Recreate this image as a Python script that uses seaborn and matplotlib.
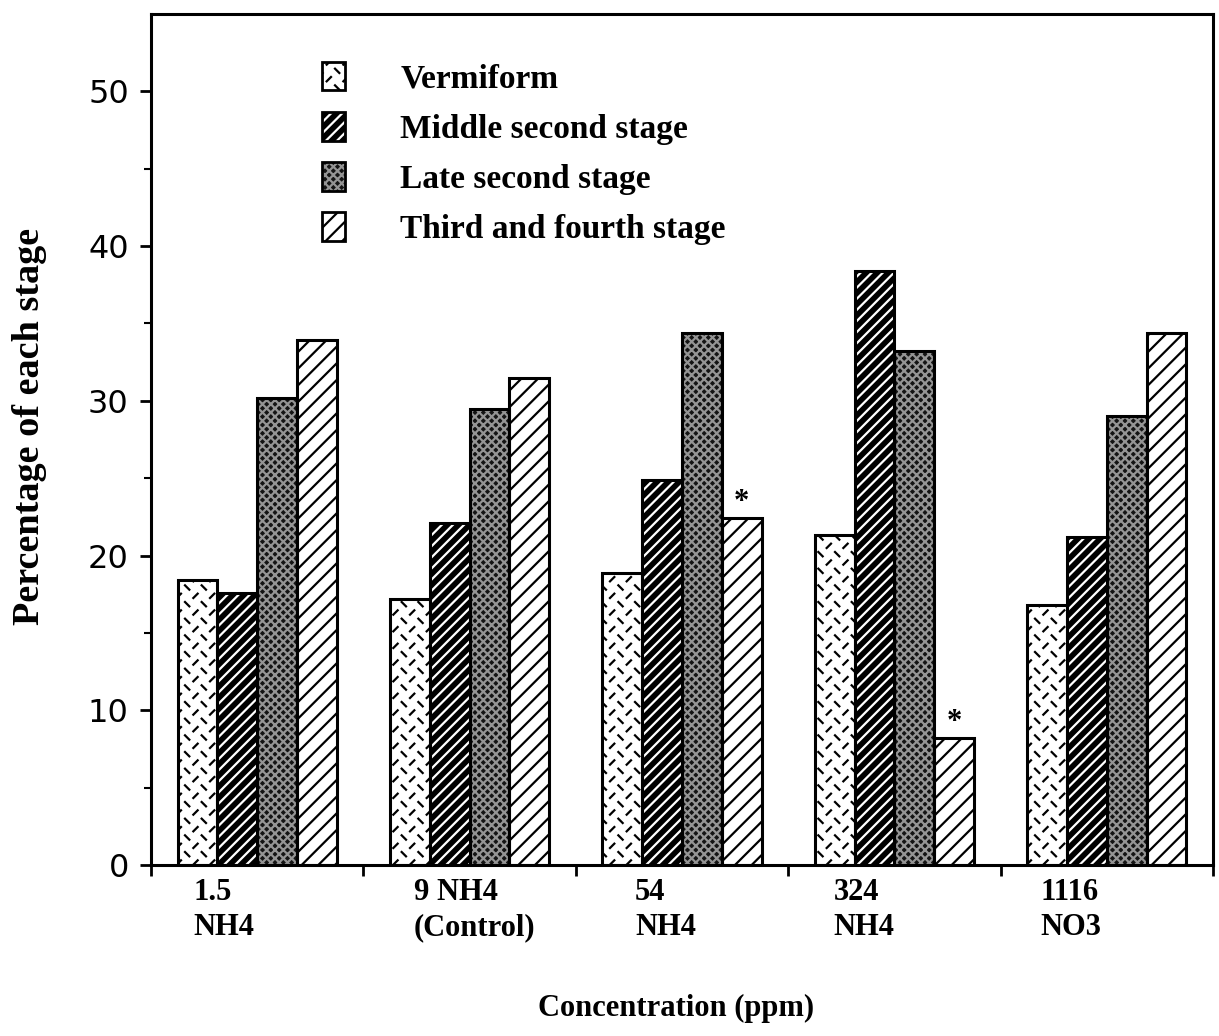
import numpy as np
import pandas as pd
import matplotlib
matplotlib.use("Agg")
import matplotlib.pyplot as plt
import matplotlib.transforms as mtrans
from matplotlib import hatch as mhatch
from matplotlib.patches import Rectangle, Patch
from matplotlib.path import Path
import seaborn as sns

# ---------------- data ----------------
concentrations = ["1.5\nNH4", "9 NH4\n(Control)", "54\nNH4", "324\nNH4", "1116\nNO3"]
stages = ["Vermiform", "Middle second stage", "Late second stage", "Third and fourth stage"]
vermiform = [18.4, 17.2, 18.9, 21.3, 16.8]
middle_second = [17.6, 22.1, 24.9, 38.4, 21.2]
late_second = [30.2, 29.5, 34.4, 33.2, 29.0]
third_fourth = [33.9, 31.5, 22.4, 8.2, 34.4]
# (group index, stage index) of bars flagged with an asterisk
significant = [(2, 3), (3, 3)]

series = [vermiform, middle_second, late_second, third_fourth]
df = pd.DataFrame({
    "Concentration": concentrations * len(stages),
    "Stage": [s for s in stages for _ in concentrations],
    "Percentage": [v for vals in series for v in vals],
})


# ---------------- custom "dash" hatch for the vermiform fill ----------------
class DashHatch(mhatch.HatchPatternBase):
    """Short alternating dashes, triggered by the 'O' hatch symbol."""

    def __init__(self, hatch, density):
        self.n = int(hatch.count("O") * density)
        self.num_vertices = self.n * self.n * 4

    def set_vertices_and_codes(self, vertices, codes):
        n = self.n
        s = 1.0 / n
        k = 0
        for i in range(n):
            for j in range(n):
                x0, y0 = i * s, j * s
                segs = [((x0 + 0.10 * s, y0 + 0.88 * s), (x0 + 0.36 * s, y0 + 0.62 * s)),
                        ((x0 + 0.60 * s, y0 + 0.12 * s), (x0 + 0.86 * s, y0 + 0.38 * s))]
                for a, b in segs:
                    vertices[k] = a
                    codes[k] = Path.MOVETO
                    vertices[k + 1] = b
                    codes[k + 1] = Path.LINETO
                    k += 2


mhatch._hatch_types = [t for t in mhatch._hatch_types if t is not mhatch.LargeCircles] + [DashHatch]

# ---------------- style ----------------
sns.set_style("ticks")
plt.rcParams["hatch.linewidth"] = 1.6
plt.rcParams["font.family"] = ["Liberation Serif", "DejaVu Serif"]
for key in ["text.color", "axes.labelcolor", "xtick.color", "ytick.color", "axes.edgecolor"]:
    plt.rcParams[key] = "black"

styles = {
    "Vermiform": dict(face="white", hatch="O", hcolor="black"),
    "Middle second stage": dict(face="black", hatch="///", hcolor="white"),
    "Late second stage": dict(face="#141414", hatch="xxxx", hcolor="#949494"),
    "Third and fourth stage": dict(face="white", hatch="//", hcolor="black"),
}

fig = plt.figure(figsize=(12.19, 10.36), dpi=100)
ax = fig.add_axes([151 / 1219, (1036 - 865) / 1036, (1213 - 151) / 1219, (865 - 14) / 1036])

sns.barplot(data=df, x="Concentration", y="Percentage", hue="Stage",
            order=concentrations, hue_order=stages, width=0.75, gap=0,
            palette=["white"] * 4, edgecolor="black", linewidth=2,
            legend=False, errorbar=None, ax=ax)

for stage, cont in zip(stages, ax.containers):
    st = styles[stage]
    for p in cont.patches:
        p.set_facecolor(st["face"])
        p.set_edgecolor(st["hcolor"])
        p.set_hatch(st["hatch"])
        p.set_linewidth(0)
        ax.add_patch(Rectangle(p.get_xy(), p.get_width(), p.get_height(),
                               fill=False, edgecolor="black", linewidth=2.2, zorder=3))

# asterisks
for g, s in significant:
    p = ax.containers[s].patches[g]
    ax.annotate("*", (p.get_x() + p.get_width() / 2, p.get_height()),
                xytext=(0, 1), textcoords="offset points", ha="center", va="bottom",
                fontsize=22, fontweight="bold")

# axes
ax.set_ylim(0, 55)
ax.set_xlim(-0.5, len(concentrations) - 0.5)
ax.set_yticks(np.arange(0, 51, 10))
ax.set_yticks(np.arange(5, 50, 10), minor=True)
ax.tick_params(axis="y", which="major", direction="out", length=8, width=2, pad=8)
ax.tick_params(axis="y", which="minor", direction="out", length=5, width=1.5)
for lab in ax.get_yticklabels():
    lab.set_fontfamily(["DejaVu Sans"])
    lab.set_fontweight("normal")
    lab.set_fontsize(23)
    lab.set_color("black")

ax.set_xticks(np.arange(-0.5, len(concentrations), 1.0))
ax.set_xticklabels([""] * (len(concentrations) + 1))
ax.set_xticks(np.arange(len(concentrations)), minor=True)
ax.set_xticklabels(concentrations, minor=True)
ax.tick_params(axis="x", which="major", direction="out", length=8, width=2)
ax.tick_params(axis="x", which="minor", length=0, pad=9)
shift_px = [-64, -56, -47, -61, -66]
for lab, sh in zip(ax.xaxis.get_ticklabels(minor=True), shift_px):
    lab.set_horizontalalignment("left")
    lab.set_multialignment("left")
    lab.set_fontsize(22)
    lab.set_fontweight("bold")
    lab.set_linespacing(1.3)
    lab.set_color("black")
    lab.set_transform(lab.get_transform() + mtrans.ScaledTranslation(sh / 100, 0, fig.dpi_scale_trans))

for sp in ax.spines.values():
    sp.set_visible(True)
    sp.set_linewidth(2.2)
    sp.set_color("black")

ax.set_ylabel("Percentage of each stage", fontsize=27.5, fontweight="bold")
ax.yaxis.set_label_coords(-0.114, 0.515)
ax.yaxis.label.set_verticalalignment("center")
ax.set_xlabel("Concentration (ppm)", fontsize=22, fontweight="bold")
ax.xaxis.set_label_coords(0.494, -0.168)
ax.xaxis.label.set_verticalalignment("center")

# legend
handles = []
for stage in stages:
    st = styles[stage]
    fill = Patch(facecolor=st["face"], edgecolor=st["hcolor"], hatch=st["hatch"], linewidth=0)
    outline = Patch(facecolor="none", edgecolor="black", linewidth=2)
    handles.append((fill, outline))
leg = ax.legend(handles, stages, loc="upper left", bbox_to_anchor=(0.161, 0.944),
                frameon=False, handlelength=0.7, handleheight=0.95, handletextpad=1.65,
                labelspacing=0.52, borderaxespad=0, borderpad=0,
                prop=dict(family=["Liberation Serif"], weight="bold", size=24))

fig.savefig("out.png", dpi=100)
